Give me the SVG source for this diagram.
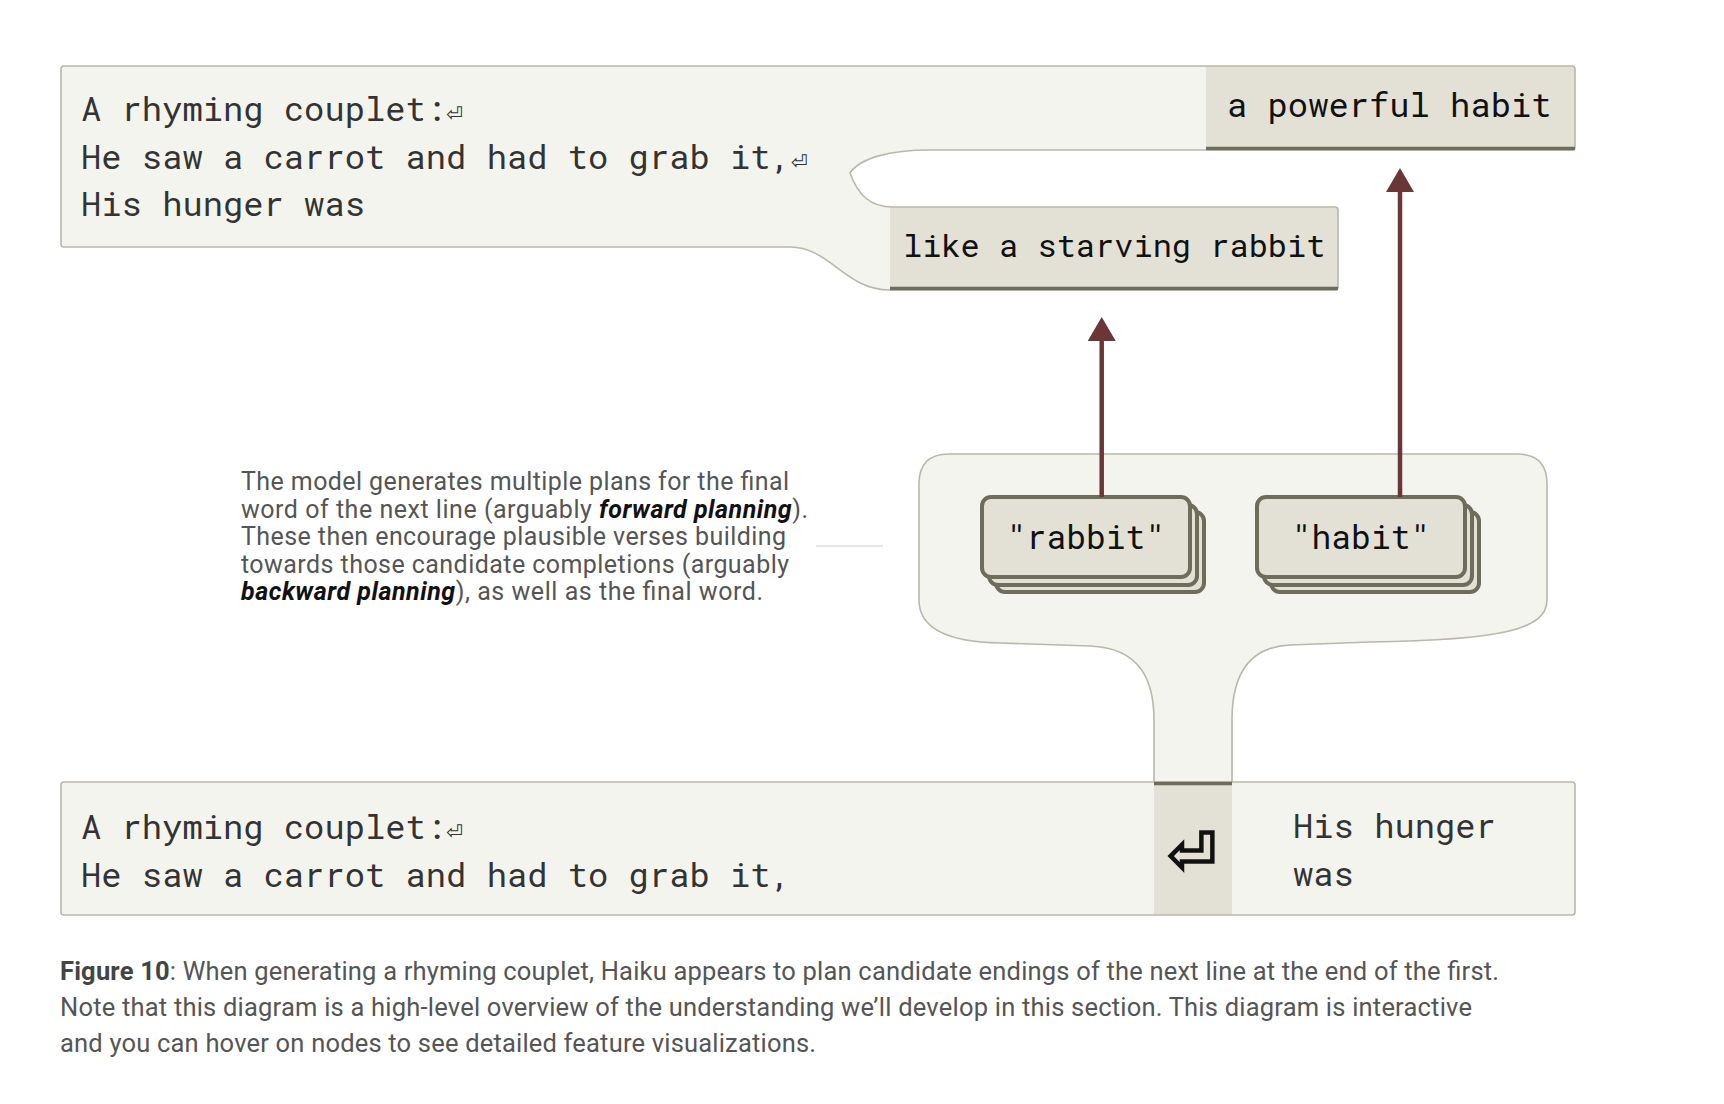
<svg xmlns="http://www.w3.org/2000/svg" width="1724" height="1104" viewBox="0 0 1724 1104">
<style>
.ctx{fill:#f4f4ef}
.tok{fill:#e3e1d5}
.outline{fill:none;stroke:#bab7ab;stroke-width:1.6}
.dark{stroke:#6e6c5b;stroke-width:3.5;fill:none}
.mono{font-family:"Roboto Mono","DejaVu Sans Mono",monospace;font-size:33.8px;fill:#333}
.tokt{font-family:"Roboto Mono","DejaVu Sans Mono",monospace;fill:#111}
.ret{font-family:"DejaVu Sans",sans-serif;font-size:20px}
.card{fill:#e3e1d5;stroke:#6e6c5b;stroke-width:4}
.conn{stroke:#6b3636;stroke-width:4.5;fill:none}
.note{font-family:Roboto,"Liberation Sans",sans-serif;font-size:25px;fill:#555}
.em{font-weight:bold;font-style:italic;fill:#111}
.cap{font-family:Roboto,"Liberation Sans",sans-serif;font-size:25.5px;fill:#555}
</style>
<defs>
<marker id="ah" viewBox="0 0 24 28" refX="4" refY="14" markerWidth="24" markerHeight="28" orient="auto" markerUnits="userSpaceOnUse">
<path d="M0,0 L24,14 L0,28 Z" fill="#6b3636"/>
</marker>
</defs>
<rect width="1724" height="1104" fill="#ffffff"/>

<g id="top-context">
<path class="ctx" d="M64,66 L1572,66 Q1575,66 1575,69 L1575,147 Q1575,150 1572,150 L930,150 C890,150 860,158 850,173 C858,195 870,207 893,207 L1335,207 Q1338,207 1338,210 L1338,287 Q1338,290 1335,290 L890,290 C845,290 830,247 790,247 L64,247 Q61,247 61,244 L61,69 Q61,66 64,66 Z"/>
<g id="node-powerful-habit">
<rect class="tok" x="1206" y="66" width="369" height="84"/>
<text class="tokt" x="1227" y="116.5" font-size="33.8">a powerful habit</text>
</g>
<g id="node-starving-rabbit">
<rect class="tok" x="890" y="207" width="448" height="83"/>
<text class="tokt" x="903" y="256.5" font-size="32">like a starving rabbit</text>
</g>
<path class="outline" d="M64,66 L1572,66 Q1575,66 1575,69 L1575,147 Q1575,150 1572,150 L930,150 C890,150 860,158 850,173 C858,195 870,207 893,207 L1335,207 Q1338,207 1338,210 L1338,287 Q1338,290 1335,290 L890,290 C845,290 830,247 790,247 L64,247 Q61,247 61,244 L61,69 Q61,66 64,66 Z"/>
<line class="dark" x1="1206" y1="148.5" x2="1575" y2="148.5"/>
<line class="dark" x1="890" y1="288.5" x2="1338" y2="288.5"/>
<text class="mono" x="81" y="121">A rhyming couplet:<tspan class="ret">⏎</tspan></text>
<text class="mono" x="81" y="168.5">He saw a carrot and had to grab it,<tspan class="ret">⏎</tspan></text>
<text class="mono" x="81" y="216">His hunger was</text>
</g>

<g id="plan-group">
<path class="ctx" d="M949,454 L1517,454 Q1547,454 1547,484 L1547,600 C1547,630 1500,640 1370,642 L1290,645 C1245,647 1232,680 1232,720 L1232,782 L1154,782 L1154,720 C1154,680 1140,648 1090,646 L1000,643 C950,642 919,630 919,600 L919,484 Q919,454 949,454 Z"/>
<path class="outline" d="M1232,782 L1232,720 C1232,680 1245,647 1290,645 L1370,642 C1500,640 1547,630 1547,600 L1547,484 Q1547,454 1517,454 L949,454 Q919,454 919,484 L919,600 C919,630 950,642 1000,643 L1090,646 C1140,648 1154,680 1154,720 L1154,782"/>
</g>

<g id="node-rabbit">
<rect class="card" x="996" y="512" width="208" height="80" rx="9"/>
<rect class="card" x="989" y="505" width="208" height="80" rx="9"/>
<rect class="card" x="982" y="497" width="208" height="80" rx="9"/>
<text class="tokt" x="1086" y="549" font-size="33" text-anchor="middle">"rabbit"</text>
</g>

<g id="node-habit">
<rect class="card" x="1271" y="512" width="208" height="80" rx="9"/>
<rect class="card" x="1264" y="505" width="208" height="80" rx="9"/>
<rect class="card" x="1257" y="497" width="208" height="80" rx="9"/>
<text class="tokt" x="1361" y="549" font-size="33" text-anchor="middle">"habit"</text>
</g>

<g id="connectors">
<line class="conn" x1="1101.7" y1="497" x2="1101.7" y2="337" marker-end="url(#ah)"/>
<line class="conn" x1="1400" y1="497" x2="1400" y2="188" marker-end="url(#ah)"/>
<line x1="816" y1="546" x2="883" y2="546" stroke="#dddddd" stroke-width="1.5"/>
</g>

<g id="bottom-context">
<rect class="ctx" x="61" y="782" width="1514" height="133" rx="3"/>
<g id="node-return">
<rect class="tok" x="1154" y="782" width="78" height="133"/>
<text x="1192" y="875" font-family="DejaVu Sans,sans-serif" font-size="60" text-anchor="middle" fill="#111" stroke="#111" stroke-width="1.6">⏎</text>
</g>
<rect class="outline" x="61" y="782" width="1514" height="133" rx="3"/>
<line class="dark" x1="1154" y1="783.5" x2="1232" y2="783.5"/>
<text class="mono" x="81" y="839">A rhyming couplet:<tspan class="ret">⏎</tspan></text>
<text class="mono" x="81" y="887">He saw a carrot and had to grab it,</text>
<text class="mono" x="1293" y="838">His hunger</text>
<text class="mono" x="1293" y="886">was</text>
</g>

<g id="annotation">
<text class="note" x="241" y="490" textLength="548" lengthAdjust="spacing">The model generates multiple plans for the final</text>
<text class="note" x="241" y="517.5" textLength="567" lengthAdjust="spacing">word of the next line (arguably <tspan class="em">forward planning</tspan>).</text>
<text class="note" x="241" y="545" textLength="545" lengthAdjust="spacing">These then encourage plausible verses building</text>
<text class="note" x="241" y="572.5" textLength="548" lengthAdjust="spacing">towards those candidate completions (arguably</text>
<text class="note" x="241" y="600" textLength="522" lengthAdjust="spacing"><tspan class="em">backward planning</tspan>), as well as the final word.</text>
</g>

<g id="caption">
<text class="cap" x="60" y="980" textLength="1439" lengthAdjust="spacing"><tspan font-weight="bold" fill="#444">Figure 10</tspan>: When generating a rhyming couplet, Haiku appears to plan candidate endings of the next line at the end of the first.</text>
<text class="cap" x="60" y="1016" textLength="1412" lengthAdjust="spacing">Note that this diagram is a high-level overview of the understanding we’ll develop in this section. This diagram is interactive</text>
<text class="cap" x="60" y="1052" textLength="756" lengthAdjust="spacing">and you can hover on nodes to see detailed feature visualizations.</text>
</g>
</svg>
